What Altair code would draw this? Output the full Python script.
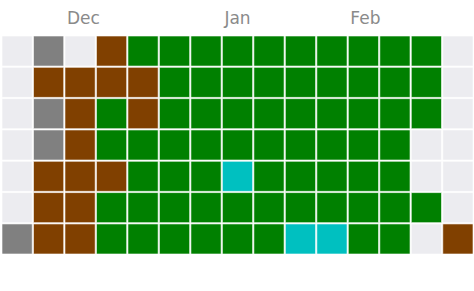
import altair as alt
import pandas as pd

E, G, B, V, C = "none", "gray", "brown", "green", "cyan"

row0 = [E, G, E, B, V, V, V, V, V, V, V, V, V, V, E]
row1 = [E, B, B, B, B, V, V, V, V, V, V, V, V, V, E]
row2 = [E, G, B, V, B, V, V, V, V, V, V, V, V, V, E]
row3 = [E, G, B, V, V, V, V, V, V, V, V, V, V, E, E]
row4 = [E, B, B, B, V, V, V, C, V, V, V, V, V, E, E]
row5 = [E, B, B, V, V, V, V, V, V, V, V, V, V, V, E]
row6 = [G, B, B, V, V, V, V, V, V, C, C, V, V, E, B]
rows = [row0, row1, row2, row3, row4, row5, row6]

month_names = ["Dec", "Jan", "Feb"]
month_cols = [2, 7, 11]

categories = [E, G, B, V, C]
colors = ["#ececf0", "#808080", "#804000", "#008000", "#00c0c0"]

records = []
for d, r in enumerate(rows):
    for w, s in enumerate(r):
        records.append({"week": w, "day": d, "status": s})
cells = pd.DataFrame(records)
months = pd.DataFrame({"week": month_cols, "label": month_names})

xscale = alt.Scale(domain=list(range(15)), paddingInner=0.04, paddingOuter=0)
yscale = alt.Scale(domain=list(range(7)), paddingInner=0.04, paddingOuter=0)

rects = alt.Chart(cells).mark_rect(stroke="white", strokeWidth=1, strokeOpacity=0.6).encode(
    x=alt.X("week:O", scale=xscale, axis=None),
    y=alt.Y("day:O", scale=yscale, axis=None),
    color=alt.Color("status:N", scale=alt.Scale(domain=categories, range=colors), legend=None),
)

labels = alt.Chart(months).mark_text(
    align="left", baseline="alphabetic", font="DejaVu Sans", fontSize=17, color="#8a8a8a", dx=2
).encode(
    x=alt.X("week:O", scale=xscale, axis=None, bandPosition=0),
    y=alt.value(-12),
    text="label:N",
)

chart = alt.layer(rects, labels).properties(
    width=471, height=218,
    autosize=alt.AutoSizeParams(type="none"),
    padding={"left": 2, "top": 36, "right": 1, "bottom": 37},
).configure_view(stroke=None)

chart.save("out.html", embed_options={"renderer": "svg", "actions": False})
